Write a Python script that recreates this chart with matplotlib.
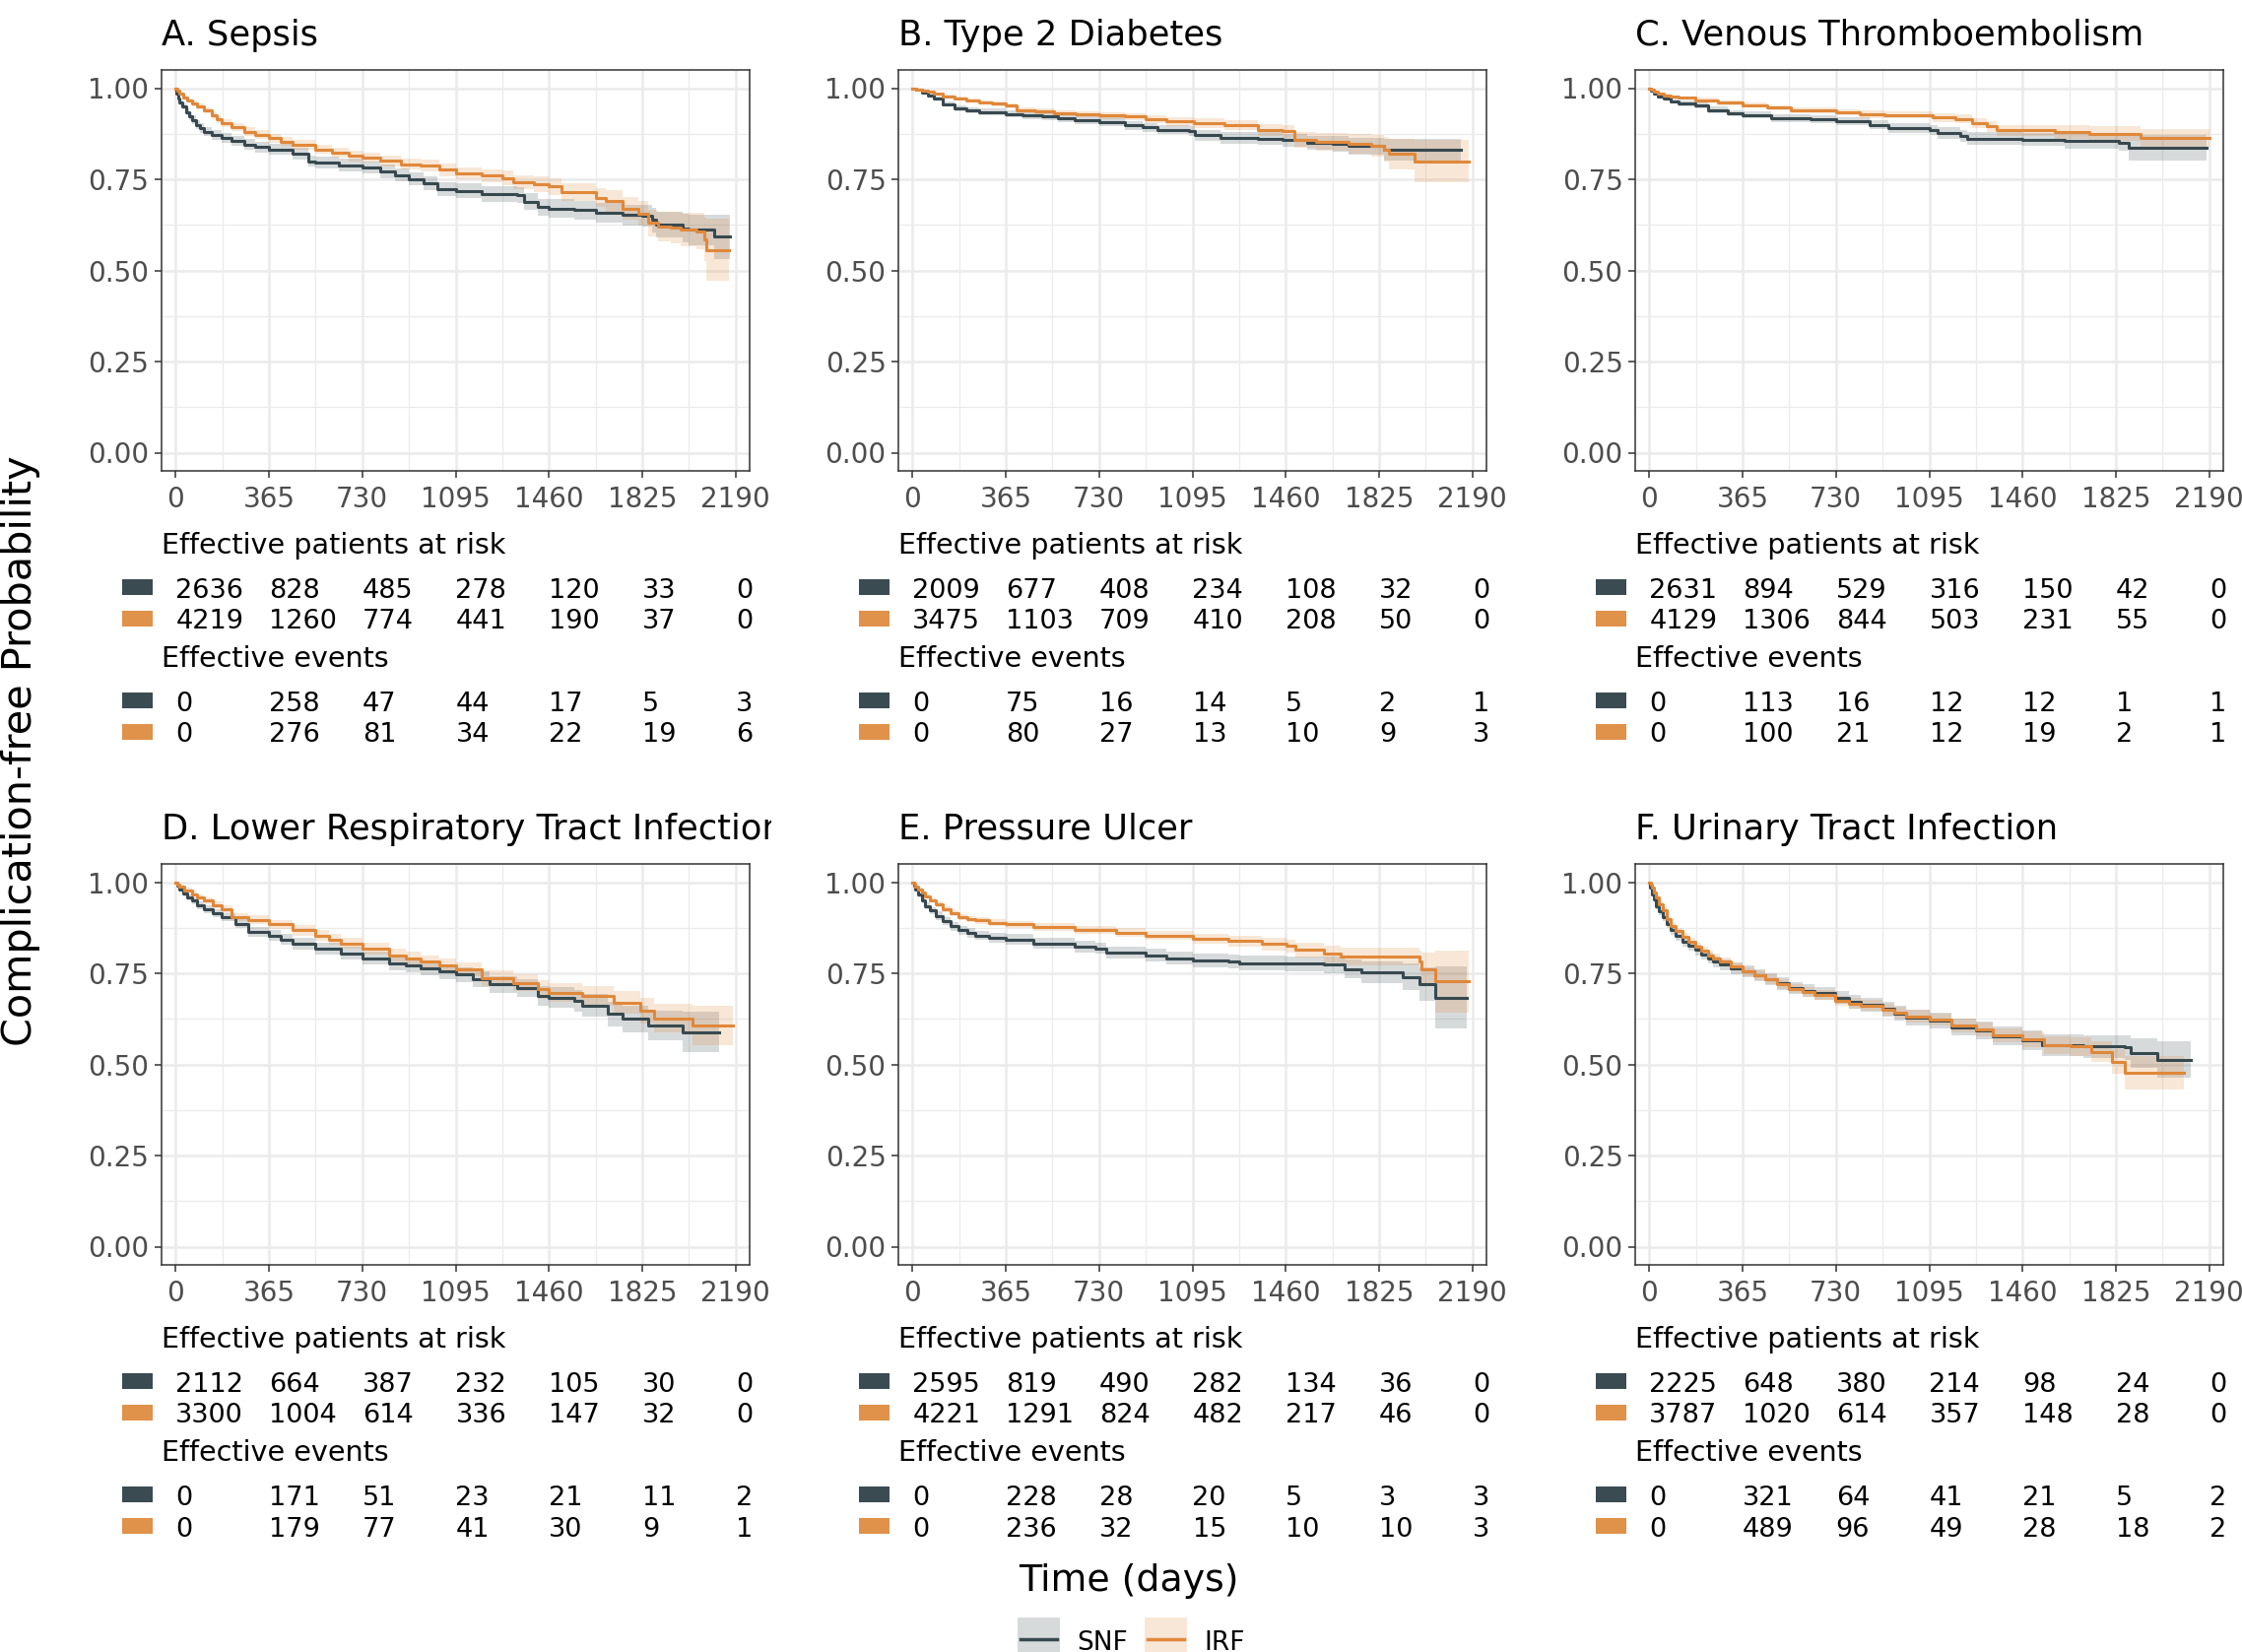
import matplotlib
matplotlib.use("Agg")
import matplotlib.pyplot as plt
from matplotlib.patches import Rectangle
from matplotlib.lines import Line2D
from matplotlib.transforms import Bbox, blended_transform_factory

# survival curves: (day, survival, ci half-width)
sepsis_snf = [(0, 1.000, 0.000), (4, 0.985, 0.004), (9, 0.972, 0.006), (16, 0.962, 0.008), (25, 0.950, 0.009),
              (40, 0.935, 0.010), (52, 0.923, 0.011), (63, 0.913, 0.012), (80, 0.900, 0.012), (95, 0.890, 0.013),
              (110, 0.881, 0.013), (140, 0.872, 0.013), (182, 0.863, 0.014), (220, 0.855, 0.014), (267, 0.845, 0.015),
              (310, 0.838, 0.015), (365, 0.832, 0.015), (456, 0.820, 0.016), (519, 0.800, 0.016),
              (547, 0.796, 0.016), (640, 0.789, 0.017), (730, 0.782, 0.017), (800, 0.772, 0.018), (860, 0.762, 0.018),
              (912, 0.751, 0.018), (970, 0.738, 0.019), (1022, 0.724, 0.019),
              (1095, 0.718, 0.020), (1196, 0.710, 0.021), (1337, 0.706, 0.022), (1361, 0.688, 0.023), (1416, 0.673, 0.024),
              (1460, 0.670, 0.025), (1558, 0.665, 0.026), (1642, 0.659, 0.027), (1746, 0.652, 0.028), (1825, 0.649, 0.030),
              (1864, 0.638, 0.033), (1880, 0.625, 0.035), (1982, 0.616, 0.040), (2006, 0.612, 0.042), (2108, 0.592, 0.060),
              (2168, 0.592, 0.060)]
sepsis_irf = [(0, 1.000, 0.000), (8, 0.992, 0.003), (16, 0.985, 0.004), (30, 0.975, 0.005), (45, 0.966, 0.006),
              (63, 0.958, 0.007), (85, 0.950, 0.008), (110, 0.940, 0.008), (140, 0.925, 0.009), (160, 0.914, 0.010),
              (182, 0.904, 0.010), (220, 0.893, 0.011), (267, 0.881, 0.011), (310, 0.872, 0.012), (365, 0.863, 0.012),
              (410, 0.854, 0.013), (456, 0.845, 0.013), (547, 0.832, 0.013), (610, 0.823, 0.014), (676, 0.814, 0.014),
              (730, 0.810, 0.014), (800, 0.801, 0.015), (880, 0.791, 0.015), (960, 0.787, 0.016), (1030, 0.776, 0.017),
              (1095, 0.766, 0.017), (1196, 0.760, 0.018),
              (1278, 0.754, 0.019), (1322, 0.742, 0.020), (1400, 0.736, 0.021), (1460, 0.730, 0.022), (1510, 0.715, 0.024),
              (1642, 0.700, 0.027), (1683, 0.690, 0.029), (1746, 0.670, 0.031), (1809, 0.656, 0.034), (1848, 0.630, 0.037),
              (1887, 0.620, 0.040), (1935, 0.618, 0.043), (1974, 0.612, 0.046), (2037, 0.607, 0.050), (2068, 0.585, 0.060),
              (2076, 0.556, 0.085), (2163, 0.556, 0.085)]

t2d_snf = [(0, 1.000, 0.000), (15, 0.995, 0.003), (36, 0.989, 0.004), (60, 0.980, 0.005), (84, 0.971, 0.006),
           (120, 0.956, 0.007), (165, 0.944, 0.008), (210, 0.939, 0.008), (263, 0.935, 0.009),
           (365, 0.929, 0.010), (430, 0.926, 0.010), (506, 0.922, 0.010), (570, 0.918, 0.011), (636, 0.913, 0.011),
           (730, 0.907, 0.012), (830, 0.898, 0.012), (900, 0.892, 0.013),
           (960, 0.886, 0.013), (1082, 0.882, 0.014), (1106, 0.871, 0.015), (1204, 0.864, 0.016), (1350, 0.862, 0.017),
           (1447, 0.857, 0.018), (1544, 0.850, 0.020), (1642, 0.848, 0.021), (1707, 0.841, 0.023), (1845, 0.832, 0.030),
           (2145, 0.832, 0.036)]
t2d_irf = [(0, 1.000, 0.000), (15, 0.997, 0.002), (36, 0.994, 0.003), (60, 0.990, 0.004), (84, 0.985, 0.004),
           (120, 0.978, 0.005), (165, 0.971, 0.005), (210, 0.966, 0.006), (263, 0.961, 0.006), (310, 0.957, 0.007),
           (365, 0.952, 0.007), (409, 0.940, 0.008), (480, 0.936, 0.008), (555, 0.931, 0.009), (640, 0.928, 0.009),
           (730, 0.925, 0.010), (830, 0.922, 0.010),
           (912, 0.916, 0.011), (993, 0.909, 0.012), (1100, 0.904, 0.013), (1220, 0.898, 0.014), (1350, 0.886, 0.016),
           (1447, 0.882, 0.018), (1495, 0.859, 0.022), (1577, 0.853, 0.024), (1707, 0.848, 0.027), (1796, 0.841, 0.030),
           (1845, 0.832, 0.034), (1865, 0.819, 0.042), (1963, 0.799, 0.058), (2177, 0.799, 0.058)]

vte_snf = [(0, 1.000, 0.000), (8, 0.992, 0.003), (19, 0.985, 0.004), (35, 0.978, 0.005), (57, 0.971, 0.006),
           (85, 0.964, 0.007), (115, 0.958, 0.007), (182, 0.952, 0.008),
           (230, 0.940, 0.009), (306, 0.931, 0.009), (365, 0.927, 0.010), (478, 0.918, 0.010), (631, 0.916, 0.011),
           (730, 0.909, 0.011), (861, 0.900, 0.012), (937, 0.891, 0.013), (1095, 0.886, 0.014), (1128, 0.877, 0.015),
           (1215, 0.868, 0.016), (1243, 0.862, 0.017), (1460, 0.859, 0.018), (1625, 0.855, 0.020), (1836, 0.850, 0.022),
           (1874, 0.837, 0.035), (2180, 0.837, 0.040)]
vte_irf = [(0, 1.000, 0.000), (8, 0.996, 0.002), (19, 0.991, 0.002), (35, 0.985, 0.003), (57, 0.980, 0.004),
           (85, 0.976, 0.005), (115, 0.973, 0.005), (182, 0.967, 0.006), (270, 0.960, 0.007),
           (365, 0.953, 0.007), (460, 0.946, 0.008), (555, 0.940, 0.008), (730, 0.934, 0.009), (822, 0.928, 0.010),
           (918, 0.927, 0.010),
           (1109, 0.919, 0.012), (1196, 0.916, 0.013), (1262, 0.904, 0.014), (1320, 0.895, 0.015), (1358, 0.884, 0.016),
           (1587, 0.880, 0.018), (1721, 0.875, 0.020), (1922, 0.864, 0.025), (2190, 0.864, 0.028)]

lrti_snf = [(0, 1.000, 0.000), (5, 0.990, 0.004), (16, 0.980, 0.006), (30, 0.968, 0.007), (45, 0.958, 0.008),
            (63, 0.949, 0.009), (85, 0.937, 0.010), (110, 0.926, 0.011), (145, 0.914, 0.011), (182, 0.904, 0.012),
            (236, 0.886, 0.013), (283, 0.863, 0.014), (365, 0.854, 0.015), (410, 0.843, 0.015), (456, 0.832, 0.016),
            (547, 0.818, 0.016),
            (645, 0.805, 0.017), (730, 0.791, 0.018), (834, 0.778, 0.019), (900, 0.771, 0.019), (960, 0.764, 0.020),
            (1030, 0.755, 0.020), (1095, 0.746, 0.021),
            (1164, 0.733, 0.022), (1227, 0.719, 0.023), (1337, 0.710, 0.025), (1416, 0.688, 0.027), (1460, 0.683, 0.028),
            (1558, 0.674, 0.030), (1589, 0.661, 0.031), (1692, 0.638, 0.034), (1746, 0.625, 0.036), (1848, 0.607, 0.040),
            (1982, 0.589, 0.055), (2124, 0.589, 0.060)]
lrti_irf = [(0, 1.000, 0.000), (8, 0.994, 0.003), (16, 0.989, 0.004), (35, 0.978, 0.006), (63, 0.967, 0.007),
            (85, 0.958, 0.008), (110, 0.949, 0.009), (145, 0.937, 0.009), (182, 0.926, 0.010),
            (220, 0.904, 0.011), (283, 0.897, 0.012), (365, 0.884, 0.013), (456, 0.868, 0.014), (547, 0.854, 0.014),
            (600, 0.843, 0.015), (645, 0.832, 0.015), (730, 0.818, 0.016), (834, 0.800, 0.017), (900, 0.791, 0.018),
            (960, 0.782, 0.018), (1030, 0.772, 0.019), (1095, 0.762, 0.019),
            (1196, 0.737, 0.021), (1322, 0.724, 0.023), (1416, 0.706, 0.025), (1460, 0.697, 0.026), (1589, 0.688, 0.028),
            (1715, 0.670, 0.031), (1818, 0.647, 0.035), (1873, 0.627, 0.038), (2022, 0.607, 0.055), (2179, 0.607, 0.060)]

ulcer_snf = [(0, 1.000, 0.000), (5, 0.990, 0.004), (11, 0.980, 0.005), (22, 0.965, 0.007), (36, 0.949, 0.008),
             (50, 0.935, 0.009), (68, 0.922, 0.010), (90, 0.908, 0.011), (117, 0.893, 0.011), (150, 0.879, 0.012),
             (182, 0.868, 0.012), (215, 0.860, 0.013), (247, 0.854, 0.013), (300, 0.848, 0.014), (365, 0.843, 0.014),
             (474, 0.832, 0.014), (636, 0.823, 0.015),
             (717, 0.818, 0.015), (758, 0.807, 0.016), (912, 0.800, 0.017), (993, 0.791, 0.018), (1095, 0.785, 0.018),
             (1236, 0.782, 0.019), (1277, 0.778, 0.020), (1458, 0.776, 0.021), (1609, 0.773, 0.023), (1690, 0.762, 0.026),
             (1755, 0.753, 0.030), (1918, 0.740, 0.036), (1983, 0.720, 0.045), (2044, 0.683, 0.085), (2169, 0.683, 0.090)]
ulcer_irf = [(0, 1.000, 0.000), (5, 0.995, 0.002), (11, 0.989, 0.003), (22, 0.980, 0.004), (36, 0.971, 0.005),
             (50, 0.961, 0.006), (68, 0.951, 0.007), (90, 0.939, 0.007), (117, 0.926, 0.008), (150, 0.914, 0.008),
             (182, 0.904, 0.009), (215, 0.899, 0.009), (247, 0.895, 0.010), (300, 0.889, 0.010), (365, 0.884, 0.010),
             (474, 0.877, 0.011), (636, 0.868, 0.011),
             (798, 0.861, 0.012), (912, 0.854, 0.013), (1095, 0.845, 0.014), (1236, 0.839, 0.015), (1366, 0.830, 0.017),
             (1463, 0.825, 0.018), (1496, 0.814, 0.020), (1609, 0.803, 0.022), (1674, 0.796, 0.024), (1983, 0.782, 0.030),
             (1991, 0.762, 0.045), (2044, 0.728, 0.085), (2177, 0.728, 0.090)]

uti_snf = [(0, 1.000, 0.000), (4, 0.985, 0.005), (11, 0.967, 0.007), (18, 0.952, 0.008), (27, 0.935, 0.009),
           (38, 0.920, 0.010), (52, 0.904, 0.011), (68, 0.885, 0.011), (84, 0.868, 0.012), (105, 0.852, 0.012),
           (132, 0.836, 0.013), (155, 0.825, 0.013), (182, 0.814, 0.014), (205, 0.802, 0.014), (229, 0.791, 0.015),
           (250, 0.782, 0.015), (277, 0.773, 0.015), (320, 0.764, 0.016), (365, 0.755, 0.016), (410, 0.744, 0.016),
           (455, 0.733, 0.016), (500, 0.722, 0.017), (547, 0.710, 0.017), (600, 0.702, 0.017),
           (648, 0.695, 0.018), (729, 0.683, 0.018), (780, 0.672, 0.019), (826, 0.663, 0.019),
           (913, 0.652, 0.020), (960, 0.640, 0.020), (1003, 0.629, 0.021), (1095, 0.620, 0.022), (1181, 0.602, 0.023),
           (1277, 0.594, 0.024),
           (1342, 0.578, 0.025), (1460, 0.567, 0.027), (1535, 0.553, 0.029), (1697, 0.549, 0.031), (1858, 0.546, 0.035),
           (1882, 0.531, 0.040), (1987, 0.513, 0.050), (2116, 0.513, 0.050)]
uti_irf = [(0, 1.000, 0.000), (5, 0.993, 0.004), (11, 0.985, 0.005), (18, 0.972, 0.006), (27, 0.958, 0.007),
           (38, 0.940, 0.007), (52, 0.922, 0.008), (68, 0.900, 0.008), (84, 0.881, 0.009), (105, 0.866, 0.009),
           (132, 0.850, 0.010), (155, 0.836, 0.010), (182, 0.823, 0.011), (205, 0.811, 0.011), (229, 0.800, 0.011),
           (250, 0.791, 0.012), (277, 0.782, 0.012), (320, 0.768, 0.012), (365, 0.755, 0.012), (410, 0.744, 0.013),
           (455, 0.733, 0.013), (500, 0.720, 0.013), (547, 0.708, 0.013), (600, 0.699, 0.014),
           (648, 0.690, 0.014), (729, 0.674, 0.014), (780, 0.667, 0.015), (826, 0.661, 0.015),
           (913, 0.650, 0.016), (960, 0.641, 0.016), (1003, 0.632, 0.017), (1095, 0.623, 0.017), (1181, 0.607, 0.018),
           (1277, 0.596, 0.019),
           (1342, 0.580, 0.020), (1460, 0.569, 0.022), (1544, 0.553, 0.024), (1648, 0.549, 0.026), (1729, 0.535, 0.029),
           (1810, 0.508, 0.035), (1858, 0.477, 0.045), (2092, 0.477, 0.045)]

titles = ["A. Sepsis", "B. Type 2 Diabetes", "C. Venous Thromboembolism",
          "D. Lower Respiratory Tract Infection", "E. Pressure Ulcer", "F. Urinary Tract Infection"]
curves_snf = [sepsis_snf, t2d_snf, vte_snf, lrti_snf, ulcer_snf, uti_snf]
curves_irf = [sepsis_irf, t2d_irf, vte_irf, lrti_irf, ulcer_irf, uti_irf]

# risk table: effective patients at risk / effective events
risk_snf = [[2636, 828, 485, 278, 120, 33, 0], [2009, 677, 408, 234, 108, 32, 0], [2631, 894, 529, 316, 150, 42, 0],
            [2112, 664, 387, 232, 105, 30, 0], [2595, 819, 490, 282, 134, 36, 0], [2225, 648, 380, 214, 98, 24, 0]]
risk_irf = [[4219, 1260, 774, 441, 190, 37, 0], [3475, 1103, 709, 410, 208, 50, 0], [4129, 1306, 844, 503, 231, 55, 0],
            [3300, 1004, 614, 336, 147, 32, 0], [4221, 1291, 824, 482, 217, 46, 0], [3787, 1020, 614, 357, 148, 28, 0]]
events_snf = [[0, 258, 47, 44, 17, 5, 3], [0, 75, 16, 14, 5, 2, 1], [0, 113, 16, 12, 12, 1, 1],
              [0, 171, 51, 23, 21, 11, 2], [0, 228, 28, 20, 5, 3, 3], [0, 321, 64, 41, 21, 5, 2]]
events_irf = [[0, 276, 81, 34, 22, 19, 6], [0, 80, 27, 13, 10, 9, 3], [0, 100, 21, 12, 19, 2, 1],
              [0, 179, 77, 41, 30, 9, 1], [0, 236, 32, 15, 10, 10, 3], [0, 489, 96, 49, 28, 18, 2]]

time_ticks = [0, 365, 730, 1095, 1460, 1825, 2190]

SNF_COL = "#37494F"
IRF_COL = "#E0883A"
SNF_BOX = "#3A4B52"
IRF_BOX = "#E0924A"

W, H = 2276, 1677
fig = plt.figure(figsize=(W / 100, H / 100), dpi=100)

col_left = [164, 912, 1660]
row_top = [71, 877]
ax_w, ax_h = 597, 407


def draw_curve(ax, pts, color):
    t = [p[0] for p in pts]
    s = [p[1] for p in pts]
    lo = [p[1] - p[2] for p in pts]
    hi = [p[1] + p[2] for p in pts]
    ax.fill_between(t, lo, hi, step="post", color=color, alpha=0.2, lw=0)
    ax.step(t, s, where="post", color=color, lw=2.2)


for i in range(6):
    r, c = i // 3, i % 3
    x0 = col_left[c]
    y_top = row_top[r]
    ax = fig.add_axes([x0 / W, 1 - (y_top + ax_h) / H, ax_w / W, ax_h / H])

    draw_curve(ax, curves_snf[i], SNF_COL)
    draw_curve(ax, curves_irf[i], IRF_COL)

    ax.set_xlim(-54.75, 2244.75)
    ax.set_ylim(-0.05, 1.05)
    ax.set_xticks(time_ticks)
    ax.set_xticks([182.5 + 365 * k for k in range(6)], minor=True)
    ax.set_yticks([0, 0.25, 0.5, 0.75, 1.0])
    ax.set_yticks([0.125, 0.375, 0.625, 0.875], minor=True)
    ax.set_yticklabels(["0.00", "0.25", "0.50", "0.75", "1.00"])
    ax.grid(which="major", color="#EBEBEB", lw=1.8)
    ax.grid(which="minor", color="#EBEBEB", lw=0.9)
    ax.set_axisbelow(True)
    ax.tick_params(which="major", length=5, width=1.1, color="#333333",
                   labelsize=20, labelcolor="#4D4D4D", pad=4)
    ax.tick_params(axis="x", which="major", pad=6)
    ax.tick_params(which="minor", length=0)
    for sp in ax.spines.values():
        sp.set_color("#333333")
        sp.set_linewidth(1.1)

    # panel title (D is clipped at its cell edge like the original)
    ttl = fig.text(x0 / W, 1 - (y_top - 25) / H, titles[i], fontsize=25.4, ha="left", va="baseline")
    cell_right = x0 + ax_w + 22
    ttl.set_clip_box(Bbox.from_extents(0, 0, cell_right, H))
    ttl.set_clip_on(True)

    # risk table under the panel
    base = y_top + ax_h
    trans = blended_transform_factory(ax.transData, fig.transFigure)
    fig.text(x0 / W, 1 - (base + 84) / H, "Effective patients at risk", fontsize=20.6, va="baseline")
    fig.text(x0 / W, 1 - (base + 199) / H, "Effective events", fontsize=20.6, va="baseline")
    rows = [(base + 129, risk_snf[i], SNF_BOX), (base + 160.5, risk_irf[i], IRF_BOX),
            (base + 244, events_snf[i], SNF_BOX), (base + 275.5, events_irf[i], IRF_BOX)]
    for yb, vals, bc in rows:
        for t, v in zip(time_ticks, vals):
            fig.text(t, 1 - yb / H, str(v), fontsize=19.5, va="baseline", ha="left", transform=trans)
        fig.add_artist(Rectangle(((x0 - 40) / W, 1 - (yb - 3) / H), 31 / W, 16 / H,
                                 transform=fig.transFigure, color=bc, lw=0))

fig.text(21 / W, 1 - 762 / H, "Complication-free Probability", rotation=90,
         fontsize=29.8, ha="center", va="center")
fig.text(1146 / W, 1 - 1615 / H, "Time (days)", fontsize=27.3, ha="center", va="baseline")

# legend at the bottom
for kx, col, lab, tx in [(1033, SNF_COL, "SNF", 1093), (1162, IRF_COL, "IRF", 1222)]:
    fig.add_artist(Rectangle((kx / W, 1 - 1685 / H), 43 / W, 43 / H, transform=fig.transFigure,
                             facecolor=col, alpha=0.2, lw=0))
    fig.add_artist(Line2D([(kx + 3) / W, (kx + 40) / W], [1 - 1664 / H, 1 - 1664 / H],
                          transform=fig.transFigure, color=col, lw=2.5))
    fig.text(tx / W, 1 - 1675 / H, lab, fontsize=19, ha="left", va="baseline")

fig.savefig("out.png", dpi=100)
